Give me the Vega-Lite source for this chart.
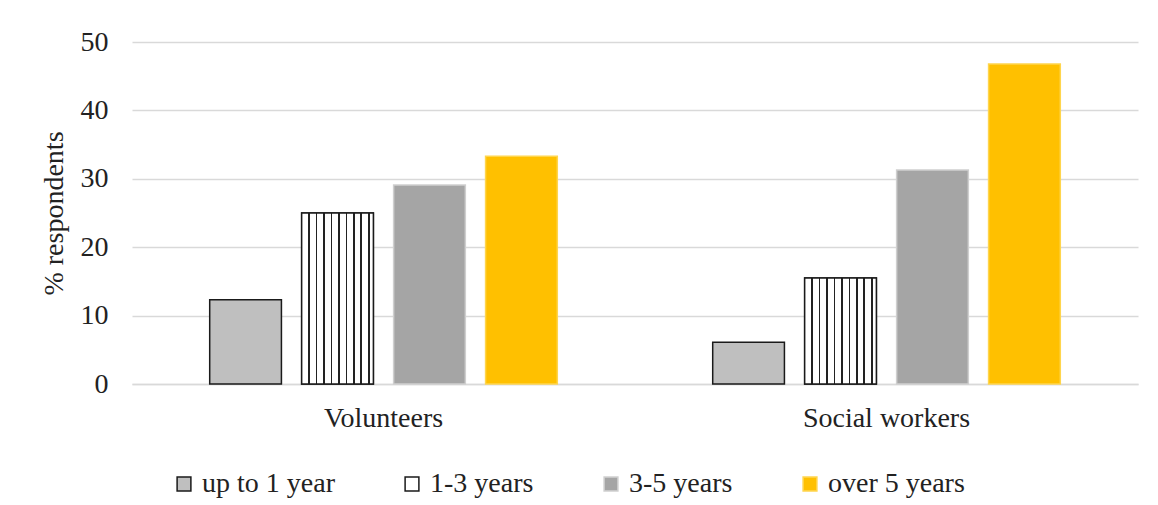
{
  "$schema": "https://vega.github.io/schema/vega-lite/v6.json",
  "autosize": "none",
  "width": 1006,
  "height": 342,
  "padding": {"left": 132, "top": 42, "right": 20, "bottom": 121},
  "background": "white",
  "config": {
    "view": {"stroke": null},
    "font": "'Liberation Serif', 'Times New Roman', serif",
    "axis": {"labelFont": "'Liberation Serif', 'Times New Roman', serif", "titleFont": "'Liberation Serif', 'Times New Roman', serif", "labelColor": "#222222", "titleColor": "#222222"},
    "legend": {"labelFont": "'Liberation Serif', 'Times New Roman', serif", "labelColor": "#222222"}
  },
  "data": {
    "values": [
      {"group": "Volunteers", "period": "up to 1 year", "value": 12.3},
      {"group": "Volunteers", "period": "1-3 years", "value": 25.0},
      {"group": "Volunteers", "period": "3-5 years", "value": 29.1},
      {"group": "Volunteers", "period": "over 5 years", "value": 33.3},
      {"group": "Social workers", "period": "up to 1 year", "value": 6.1},
      {"group": "Social workers", "period": "1-3 years", "value": 15.5},
      {"group": "Social workers", "period": "3-5 years", "value": 31.3},
      {"group": "Social workers", "period": "over 5 years", "value": 46.8}
    ]
  },
  "encoding": {
    "x": {
      "field": "group", "type": "nominal", "sort": ["Volunteers", "Social workers"],
      "scale": {"paddingInner": 0, "paddingOuter": 0},
      "axis": {"title": null, "labelAngle": 0, "labelFontSize": 28, "labelPadding": 20, "ticks": false, "domain": true, "domainColor": "#d9d9d9", "domainWidth": 1.5}
    },
    "xOffset": {
      "field": "period", "type": "nominal",
      "sort": ["up to 1 year", "1-3 years", "3-5 years", "over 5 years"],
      "scale": {"paddingInner": 0.22, "paddingOuter": 0.845}
    },
    "y": {
      "field": "value", "type": "quantitative",
      "scale": {"domain": [0, 50], "nice": false},
      "axis": {"title": "% respondents", "titleFontSize": 28, "titleFontWeight": "normal", "titlePadding": 12, "labelFontSize": 28, "labelPadding": 24, "values": [0, 10, 20, 30, 40, 50], "ticks": false, "domain": false, "grid": true, "gridColor": "#d9d9d9", "gridWidth": 1.5}
    }
  },
  "layer": [
    {
      "mark": {"type": "bar"},
      "encoding": {
        "fill": {
          "field": "period", "type": "nominal",
          "scale": {"domain": ["up to 1 year", "1-3 years", "3-5 years", "over 5 years"], "range": ["#bfbfbf", "#ffffff", "#a5a5a5", "#ffc000"]},
          "legend": {"title": null, "orient": "none", "legendX": 38, "legendY": 428, "direction": "horizontal", "columns": 4, "columnPadding": 63, "labelFontSize": 28, "symbolType": "square", "symbolSize": 190, "symbolStrokeWidth": 1.5, "labelOffset": 4}
        },
        "stroke": {
          "field": "period", "type": "nominal",
          "scale": {"domain": ["up to 1 year", "1-3 years", "3-5 years", "over 5 years"], "range": ["#1a1a1a", "#1a1a1a", "#cfcfcf", "#ffd54d"]}
        },
        "strokeWidth": {"value": 1.5}
      }
    },
    {
      "transform": [{"filter": "datum.period === '1-3 years'"}],
      "mark": {
        "type": "bar",
        "stroke": "#1a1a1a",
        "strokeWidth": 1.5,
        "fill": {
          "gradient": "linear", "x1": 0, "y1": 0, "x2": 1, "y2": 0,
          "stops": [
            {"offset": 0, "color": "#ffffff"},
            {"offset": 0.092, "color": "#ffffff"}, {"offset": 0.092, "color": "#222222"}, {"offset": 0.116, "color": "#222222"}, {"offset": 0.116, "color": "#ffffff"},
            {"offset": 0.196, "color": "#ffffff"}, {"offset": 0.196, "color": "#222222"}, {"offset": 0.22, "color": "#222222"}, {"offset": 0.22, "color": "#ffffff"},
            {"offset": 0.3, "color": "#ffffff"}, {"offset": 0.3, "color": "#222222"}, {"offset": 0.324, "color": "#222222"}, {"offset": 0.324, "color": "#ffffff"},
            {"offset": 0.404, "color": "#ffffff"}, {"offset": 0.404, "color": "#222222"}, {"offset": 0.428, "color": "#222222"}, {"offset": 0.428, "color": "#ffffff"},
            {"offset": 0.508, "color": "#ffffff"}, {"offset": 0.508, "color": "#222222"}, {"offset": 0.532, "color": "#222222"}, {"offset": 0.532, "color": "#ffffff"},
            {"offset": 0.612, "color": "#ffffff"}, {"offset": 0.612, "color": "#222222"}, {"offset": 0.636, "color": "#222222"}, {"offset": 0.636, "color": "#ffffff"},
            {"offset": 0.716, "color": "#ffffff"}, {"offset": 0.716, "color": "#222222"}, {"offset": 0.74, "color": "#222222"}, {"offset": 0.74, "color": "#ffffff"},
            {"offset": 0.82, "color": "#ffffff"}, {"offset": 0.82, "color": "#222222"}, {"offset": 0.844, "color": "#222222"}, {"offset": 0.844, "color": "#ffffff"},
            {"offset": 0.924, "color": "#ffffff"}, {"offset": 0.924, "color": "#222222"}, {"offset": 0.948, "color": "#222222"}, {"offset": 0.948, "color": "#ffffff"},
            {"offset": 1, "color": "#ffffff"}
          ]
        }
      }
    }
  ]
}
